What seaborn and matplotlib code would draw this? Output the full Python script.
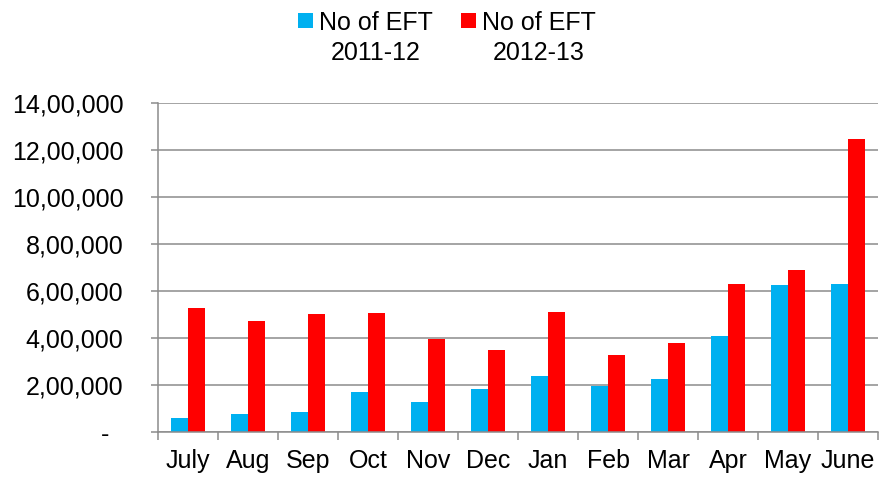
import matplotlib
matplotlib.use("Agg")
import matplotlib.pyplot as plt
from matplotlib.patches import Patch, Rectangle
from matplotlib.legend_handler import HandlerPatch
from matplotlib.ticker import FixedLocator, FuncFormatter
import seaborn as sns
import pandas as pd

months = ["July", "Aug", "Sep", "Oct", "Nov", "Dec", "Jan", "Feb", "Mar", "Apr", "May", "June"]
eft_2011_12 = [61000, 75000, 86000, 169000, 128000, 183000, 238000, 196000, 226000, 407000, 627000, 628000]
eft_2012_13 = [526000, 474000, 501000, 505000, 397000, 351000, 509000, 326000, 379000, 628000, 689000, 1245000]
series_names = ["No of EFT\n2011-12", "No of EFT\n2012-13"]
series_colors = ["#00B0F0", "#FF0000"]
y_ticks = [0, 200000, 400000, 600000, 800000, 1000000, 1200000, 1400000]

df = pd.DataFrame({
    "Month": months * 2,
    "Value": eft_2011_12 + eft_2012_13,
    "Series": [series_names[0]] * len(months) + [series_names[1]] * len(months),
})

sns.set_theme(style="white")
plt.rcParams["font.family"] = ["Liberation Sans", "DejaVu Sans"]

fig = plt.figure(figsize=(8.8, 4.79), dpi=100)
ax = fig.add_axes([158 / 880, 1 - 432 / 479, (878 - 158) / 880, (432 - 103) / 479])

sns.barplot(data=df, x="Month", y="Value", hue="Series", order=months,
            hue_order=series_names, palette=series_colors, width=0.57,
            saturation=1, ax=ax, legend=False, linewidth=0)

def indian(v, pos=None):
    n = int(round(v))
    if n == 0:
        return "-  "
    s = str(n)
    last3, rest = s[-3:], s[:-3]
    groups = []
    while len(rest) > 2:
        groups.insert(0, rest[-2:])
        rest = rest[:-2]
    if rest:
        groups.insert(0, rest)
    return ",".join(groups + [last3])

grid_c = "#8C8C8C"
ax.set_ylim(0, 1400000)
ax.set_xlim(-0.5, len(months) - 0.5)
ax.yaxis.set_major_locator(FixedLocator(y_ticks))
ax.yaxis.set_major_formatter(FuncFormatter(indian))
ax.yaxis.grid(True, color=grid_c, linewidth=1.1)
ax.set_axisbelow(True)
ax.set_xlabel("")
ax.set_ylabel("")

for s in ["top", "right"]:
    ax.spines[s].set_visible(False)
for s in ["left", "bottom"]:
    ax.spines[s].set_color(grid_c)
    ax.spines[s].set_linewidth(1.1)

ax.set_xticks([i - 0.5 for i in range(len(months) + 1)], minor=True)
ax.tick_params(axis="x", which="major", length=0, pad=12, labelsize=18, labelcolor="black")
ax.tick_params(axis="x", which="minor", length=6, width=1.1, color=grid_c, direction="out", bottom=True)
ax.tick_params(axis="y", which="major", length=5, width=1.1, color=grid_c, direction="out",
               left=True, pad=20, labelsize=18, labelcolor="black")

FS = 18

def top_patch(legend, orig_handle, xdescent, ydescent, width, height, fontsize):
    return Rectangle((-xdescent, -ydescent + 0.72 * fontsize), width, height)

handles = [Patch(facecolor=c, edgecolor="none") for c in series_colors]
leg = fig.legend(handles, series_names, loc="center", bbox_to_anchor=(0.508, 1 - 38 / 479),
                 ncol=2, frameon=False, fontsize=FS, handlelength=0.57, handleheight=0.57,
                 handletextpad=0.25, columnspacing=1.15, borderpad=0, borderaxespad=0,
                 handler_map={Patch: HandlerPatch(patch_func=top_patch)})
for t in leg.get_texts():
    t.set_multialignment("center")
    t.set_linespacing(1.3)
    t.set_color("black")

fig.savefig("out.png", dpi=100)
